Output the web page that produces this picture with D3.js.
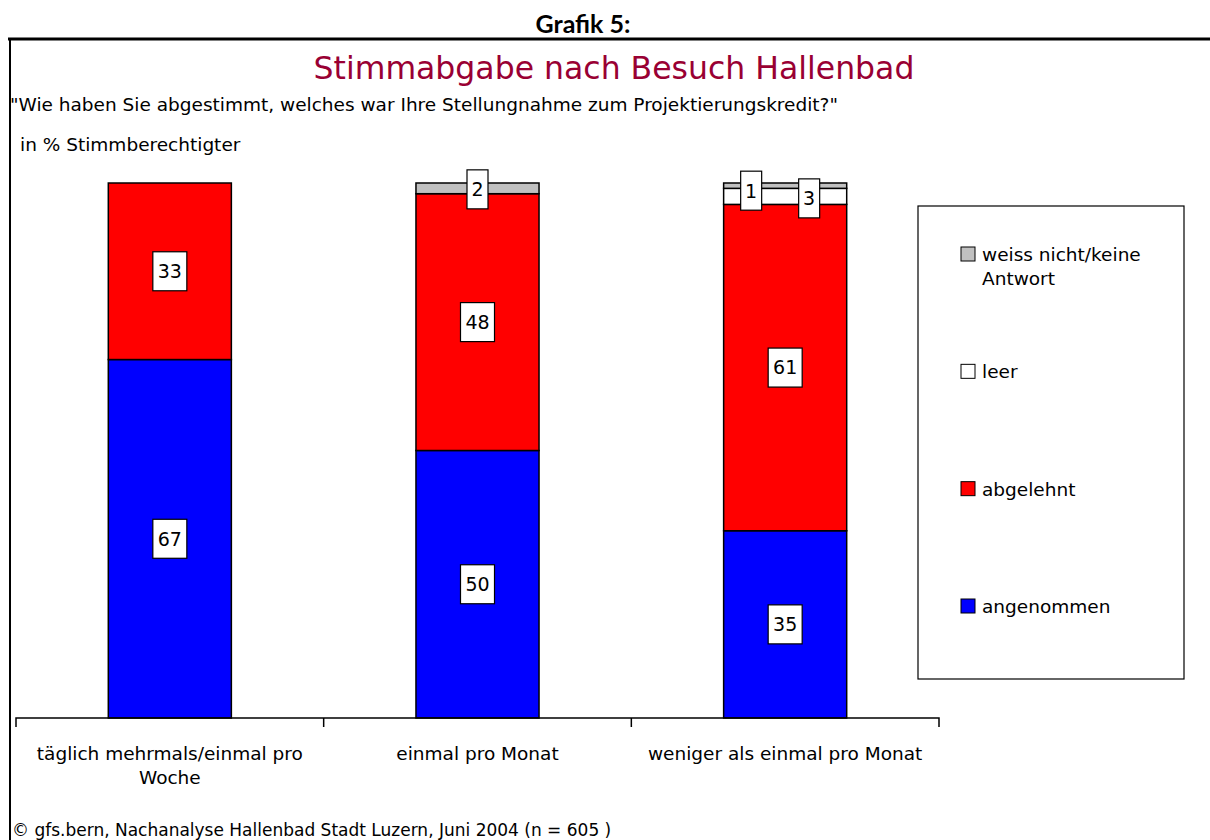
<!DOCTYPE html>
<html>
<head>
<meta charset="utf-8">
<script src="https://cdn.jsdelivr.net/npm/d3@7.9.0/dist/d3.min.js"></script>
<style>
  body { margin: 0; background: #fff; }
  svg { display: block; font-family: 'DejaVu Sans', sans-serif; }
</style>
</head>
<body>
<div id="chart"></div>
<script>
const categories = ['täglich mehrmals/einmal pro Woche', 'einmal pro Monat', 'weniger als einmal pro Monat'];
const seriesNames = ['angenommen', 'abgelehnt', 'leer', 'weiss nicht/keine Antwort'];
const angenommen = [67, 50, 35];
const abgelehnt = [33, 48, 61];
const leer = [0, 0, 3];
const weissNicht = [0, 2, 1];
const colors = ['#0000ff', '#ff0000', '#ffffff', '#c0c0c0'];

const width = 1210;
const height = 840;

const svg = d3.select('#chart')
  .append('svg')
  .attr('width', width)
  .attr('height', height);

// header
svg.append('text')
  .attr('x', 583).attr('y', 33)
  .attr('text-anchor', 'middle')
  .style('font-family', "Lato, sans-serif")
  .style('font-weight', 'bold')
  .style('font-size', '25px')
  .text('Grafik 5:');

// frame lines
svg.append('line').attr('x1', 8).attr('x2', width).attr('y1', 39).attr('y2', 39)
  .attr('stroke', '#000').attr('stroke-width', 3);
svg.append('line').attr('x1', 10).attr('x2', 10).attr('y1', 39).attr('y2', height)
  .attr('stroke', '#000').attr('stroke-width', 2);

svg.append('text')
  .attr('x', 614).attr('y', 79)
  .attr('text-anchor', 'middle')
  .attr('fill', '#990033')
  .style('font-size', '31.5px')
  .text('Stimmabgabe nach Besuch Hallenbad');

svg.append('text')
  .attr('x', 10).attr('y', 111)
  .style('font-size', '18.5px')
  .text('"Wie haben Sie abgestimmt, welches war Ihre Stellungnahme zum Projektierungskredit?"');

svg.append('text')
  .attr('x', 20).attr('y', 151)
  .style('font-size', '18.5px')
  .text('in % Stimmberechtigter');

// data table for stacking
const table = categories.map((c, i) => ({
  category: c,
  angenommen: angenommen[i],
  abgelehnt: abgelehnt[i],
  leer: leer[i],
  'weiss nicht/keine Antwort': weissNicht[i],
}));

const stack = d3.stack().keys(seriesNames);
const stacked = stack(table);

const x = d3.scaleBand()
  .domain(categories)
  .range([16, 939])
  .paddingInner(0)
  .paddingOuter(0);

const y = d3.scaleLinear()
  .domain([0, 100])
  .range([718, 183]);

const barWidth = x.bandwidth() * 0.4;

const layers = svg.append('g')
  .selectAll('g')
  .data(stacked)
  .join('g')
  .attr('fill', (d, i) => colors[i]);

layers.selectAll('rect')
  .data(d => d.filter(s => s[1] - s[0] > 0))
  .join('rect')
  .attr('x', d => x(d.data.category) + (x.bandwidth() - barWidth) / 2)
  .attr('y', d => y(d[1]))
  .attr('width', barWidth)
  .attr('height', d => y(d[0]) - y(d[1]))
  .attr('stroke', '#000')
  .attr('stroke-width', 1.5);

// axis
const xAxis = d3.axisBottom(x).tickSize(0).tickFormat('');
const axisG = svg.append('g')
  .attr('transform', `translate(0, ${y(0)})`)
  .call(xAxis);
axisG.select('.domain').attr('stroke', '#000').attr('stroke-width', 1.5)
  .attr('d', `M16,9V0H939V9`);
axisG.selectAll('.divider')
  .data(categories.slice(1))
  .join('line')
  .attr('x1', d => x(d)).attr('x2', d => x(d))
  .attr('y1', 0).attr('y2', 9)
  .attr('stroke', '#000').attr('stroke-width', 1.5);

// category labels (wrapped)
function wrapLabel(t) {
  if (t.length > 30) {
    const idx = t.lastIndexOf(' ');
    return [t.slice(0, idx), t.slice(idx + 1)];
  }
  return [t];
}
const catLabels = svg.append('g')
  .selectAll('text')
  .data(categories)
  .join('text')
  .attr('x', d => x(d) + x.bandwidth() / 2)
  .attr('y', 760)
  .attr('text-anchor', 'middle')
  .style('font-size', '18.5px');
catLabels.selectAll('tspan')
  .data(d => wrapLabel(d).map(line => ({ line, cx: x(d) + x.bandwidth() / 2 })))
  .join('tspan')
  .attr('x', d => d.cx)
  .attr('dy', (d, i) => i === 0 ? 0 : 24)
  .text(d => d.line);

// value labels
const labels = [];
stacked.forEach((layer, li) => {
  layer.forEach((s, ci) => {
    const v = s[1] - s[0];
    if (v <= 0) return;
    labels.push({ v, ci, li, mid: (s[0] + s[1]) / 2, cat: s.data.category });
  });
});
// small segments sharing a bar get pushed sideways
labels.forEach(l => {
  const smallInBar = labels.filter(o => o.ci === l.ci && o.v < 5);
  l.dx = 0;
  l.dy = 0;
  if (l.v < 5 && smallInBar.length > 1) {
    l.dx = l.li === 3 ? -34 : 24;
    l.dy = l.li === 3 ? 5 : 2;
  } else if (l.v < 5) {
    l.dy = 1;
  }
});

const lg = svg.append('g')
  .selectAll('g')
  .data(labels)
  .join('g')
  .attr('transform', d => `translate(${x(d.cat) + x.bandwidth() / 2 + d.dx}, ${y(d.mid) + d.dy})`);

lg.append('rect')
  .attr('x', d => d.v >= 10 ? -17 : -10.5)
  .attr('y', -19.5)
  .attr('width', d => d.v >= 10 ? 34 : 21)
  .attr('height', 39)
  .attr('fill', '#fff')
  .attr('stroke', '#000')
  .attr('stroke-width', 1.2);

lg.append('text')
  .attr('text-anchor', 'middle')
  .attr('dy', '0.36em')
  .style('font-size', '19px')
  .text(d => d.v);

// legend
svg.append('rect')
  .attr('x', 918).attr('y', 206)
  .attr('width', 266).attr('height', 473)
  .attr('fill', '#fff').attr('stroke', '#000').attr('stroke-width', 1.2);

const legendOrder = [3, 2, 1, 0];
const legendY = d3.scalePoint()
  .domain(legendOrder)
  .range([254, 606]);

const legItems = svg.append('g')
  .selectAll('g')
  .data(legendOrder)
  .join('g')
  .attr('transform', d => `translate(961, ${legendY(d)})`);

legItems.append('rect')
  .attr('x', 0).attr('y', -7)
  .attr('width', 14).attr('height', 14)
  .attr('fill', d => colors[d])
  .attr('stroke', '#000').attr('stroke-width', 1);

legItems.append('text')
  .attr('x', 21).attr('y', 7)
  .style('font-size', '18.5px')
  .selectAll('tspan')
  .data(d => {
    const n = seriesNames[d];
    return n.startsWith('weiss') ? ['weiss nicht/keine', 'Antwort'] : [n];
  })
  .join('tspan')
  .attr('x', 21)
  .attr('dy', (d, i) => i === 0 ? 0 : 24)
  .text(d => d);

svg.append('text')
  .attr('x', 12).attr('y', 836)
  .style('font-size', '17px')
  .text('© gfs.bern, Nachanalyse Hallenbad Stadt Luzern, Juni 2004 (n = 605 )');
</script>
</body>
</html>
